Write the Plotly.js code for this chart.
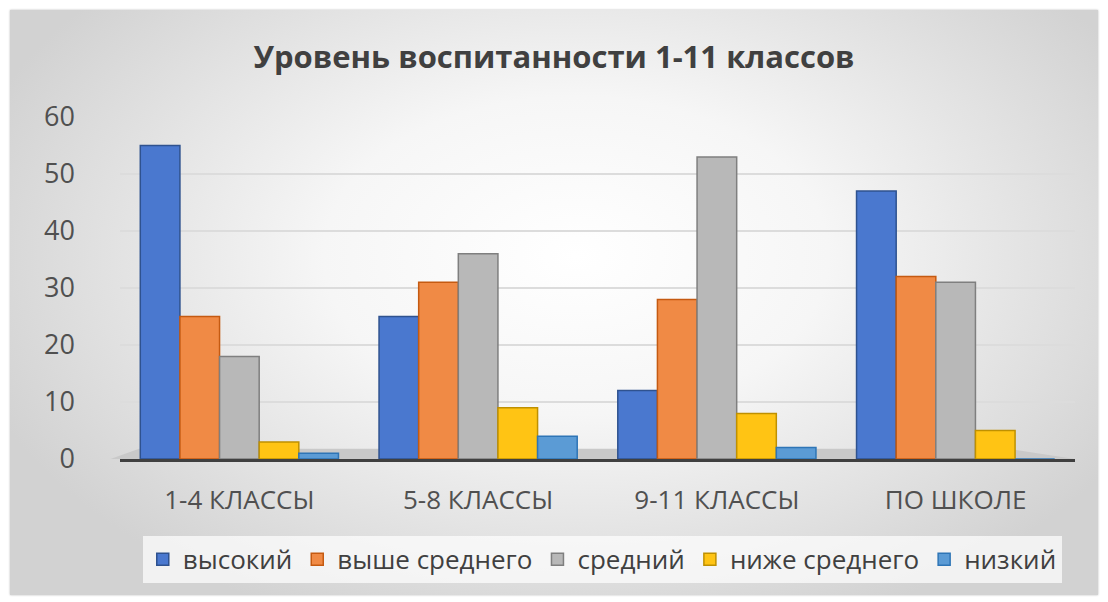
<!DOCTYPE html>
<html><head><meta charset="utf-8">
<script src="https://cdn.plot.ly/plotly-3.0.1.min.js"></script>
<style>
html,body{margin:0;padding:0;background:#fff;}
#wrap{position:absolute;left:10px;top:10px;width:1088px;height:585px;
 background:radial-gradient(ellipse 58% 68% at 52% 42%, #ffffff 0%, #f6f6f6 40%, #d2d2d2 100%);
 box-shadow:0 0 2px #bbb;}
#chart{width:1088px;height:585px;}
</style></head><body>
<div id="wrap"><div id="chart"></div></div>
<script>
const categories = ['1-4 КЛАССЫ', '5-8 КЛАССЫ', '9-11 КЛАССЫ', 'ПО ШКОЛЕ'];
const seriesNames = ['высокий', 'выше среднего', 'средний', 'ниже среднего', 'низкий'];
const vysokiy = [55, 25, 12, 47];
const vysheSrednego = [25, 31, 28, 32];
const sredniy = [18, 36, 53, 31];
const nizheSrednego = [3, 9, 8, 5];
const nizkiy = [1, 4, 2, 0];
const yTicks = [0, 10, 20, 30, 40, 50, 60];

const seriesValues = [vysokiy, vysheSrednego, sredniy, nizheSrednego, nizkiy];
const fills = ['#4A78CF', '#F08A45', '#B8B8B8', '#FFC414', '#5B9BD5'];
const edges = ['#2F528F', '#C55A11', '#7F7F7F', '#BF9000', '#2E75B6'];

const traces = seriesValues.map((v, i) => ({
  type: 'bar', name: seriesNames[i], x: categories, y: v,
  marker: {color: fills[i], line: {color: edges[i], width: 1.5}},
  hoverinfo: 'x+y+name'
}));

const font = "'Open Sans', 'Liberation Sans', sans-serif";
const layout = {
  width: 1088, height: 585,
  margin: {l: 110, r: 23, t: 107, b: 136},
  paper_bgcolor: 'rgba(0,0,0,0)', plot_bgcolor: 'rgba(0,0,0,0)',
  barmode: 'group', bargap: 0.17, bargroupgap: 0,
  title: {text: 'Уровень воспитанности 1-11 классов', x: 0.5, xanchor: 'center', y: 0.919, yanchor: 'middle',
    font: {family: font, size: 31, color: '#404040', weight: 'bold'}},
  xaxis: {tickfont: {family: font, size: 26, color: '#505050'}, showline: true, linecolor: '#404040', linewidth: 3,
    ticks: '', ticklabelstandoff: 16},
  yaxis: {range: [0, 60], tickvals: yTicks, tickfont: {family: font, size: 27, color: '#505050'},
    gridcolor: '#dcdcdc', gridwidth: 1.5, zeroline: false, ticks: '', ticklabelstandoff: 44, showline: false},
  legend: {orientation: 'h', x: 0.505, xanchor: 'center', y: -0.225, yanchor: 'top',
    bgcolor: 'rgba(255,255,255,0.7)', font: {family: font, size: 26, color: '#404040'},
    itemwidth: 30, tracegroupgap: 0},
  shapes: [{type: 'path', xref: 'paper', yref: 'y', layer: 'below',
    path: 'M -0.01,0 L 1.0,0 L 0.93,1.8 L 0.02,1.8 Z', fillcolor: '#c9c9c9', line: {width: 0}}],
  showlegend: true
};
Plotly.newPlot('chart', traces, layout, {displayModeBar: false, staticPlot: true});
</script></body></html>
